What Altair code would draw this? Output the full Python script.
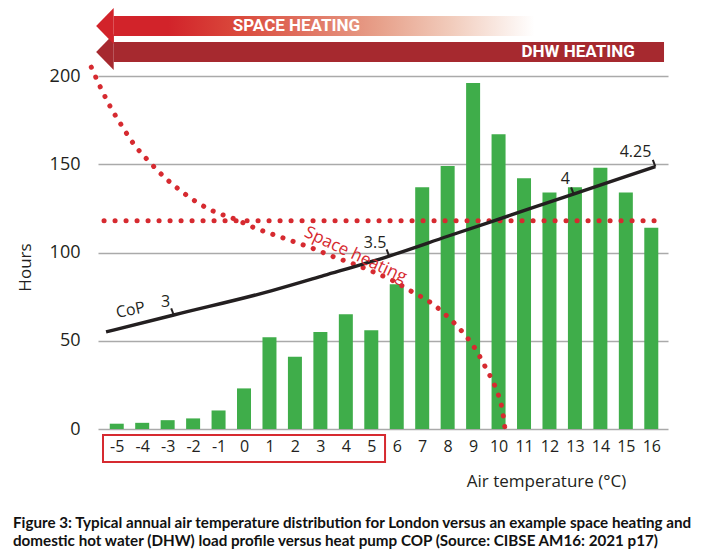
import altair as alt
import pandas as pd

FONT = "Open Sans"
CAPTION_FONT = "Lato"

# ---- data -------------------------------------------------------------
temps = list(range(-5, 17))
hours = [3, 3.5, 5, 6, 10.5, 23, 52, 41, 55, 65, 56, 82,
         137, 149, 196, 167, 142, 134, 137, 148, 134, 114]

# space-heating load profile (dotted curve), x in deg C, y in chart hours units
sh_t = [-6.0, -5.62, -5.23, -4.81, -4.31, -3.76, -3.15, -2.49, -1.80, -1.14,
        -0.37, 0.41, 1.18, 1.99, 2.76, 3.53, 4.31, 5.08, 5.85, 6.62, 7.36,
        8.01, 8.55, 9.09, 9.52, 9.90, 10.14, 10.25]
sh_h = [205, 193, 182, 172, 161, 152, 143, 135, 128, 123, 119, 114, 110, 106,
        102, 97.5, 93.5, 89, 84, 77.6, 71.4, 63.5, 55.5, 45.3, 34, 22.7, 11.3, 0.6]

# DHW load (flat dotted line)
dhw_t = [-5.5, 16.4]
dhw_h = [118, 118]

# heat pump COP curve
cop_t = [-5.42, -2.76, 1.1, 3.15, 5.7, 8.0, 10.5, 13.0, 16.16]
cop_h = [55, 64.6, 78.4, 87, 98, 109.2, 121.3, 133.4, 148.7]

cop_tick_t = [-2.76, 5.7, 12.95, 16.16]
cop_tick_h = [64.6, 98, 133.1, 148.7]

cop_label_text = ["CoP", "3", "3.5", "4", "4.25"]
cop_label_t = [-4.46, -3.08, 5.15, 12.62, 15.38]
cop_label_h = [67.4, 72.1, 105.6, 141.5, 157.1]
cop_label_angle = [-12, 0, 0, 0, 0]

# arrows (top banners) in chart units
space_body_t = [-5.12, 11.41]
space_body_h = [222.7, 234.0]
space_head_t = [-5.81, -5.12]
space_head_top = [228.3, 238.5]
space_head_bot = [228.3, 218.1]

dhw_body_t = [-5.12, 16.50]
dhw_body_h = [207.9, 219.3]
dhw_head_t = [-5.81, -5.12]
dhw_head_top = [213.6, 223.8]
dhw_head_bot = [213.6, 203.4]

box_t = [-5.54, 5.54]
box_h = [-3.4, -18.7]

caption = [
    "Figure 3: Typical annual air temperature distribution for London versus an example space heating and",
    "domestic hot water (DHW) load profile versus heat pump COP (Source: CIBSE AM16: 2021 p17)",
]

# ---- scales & axes ----------------------------------------------------
xs = alt.Scale(domain=[-5.54, 16.46], nice=False, zero=False)
ys = alt.Scale(domain=[0, 200], nice=False, zero=False)
RED = "#d62a30"
DARK = "#231f20"

XAXIS = alt.Axis(
    values=temps, grid=False, domain=False, ticks=False, tickSize=0,
    labelPadding=9, labelFontSize=16, labelFont=FONT, labelColor=DARK,
    labelFlush=False, labelOverlap=False, labelExpr="'' + datum.value",
    title="Air temperature (°C)", titleFont=FONT, titleFontSize=17,
    titleFontWeight="normal", titleColor=DARK, titleX=448, titleY=52,
    titleAlign="center", titleBaseline="middle")
YAXIS = alt.Axis(
    values=[0, 50, 100, 150, 200], grid=True, gridColor="#aaaaaa",
    gridWidth=1.3, domain=False, ticks=False, tickSize=0, labelPadding=18,
    labelFontSize=18, labelFont=FONT, labelColor=DARK,
    title="Hours", titleFont=FONT, titleFontSize=17, titleFontWeight="normal",
    titleColor=DARK, titleX=-73, titleY=191, titleAlign="center",
    titleBaseline="middle")


def X(field="t"):
    return alt.X(f"{field}:Q", scale=xs, axis=XAXIS)


def Y(field="h"):
    return alt.Y(f"{field}:Q", scale=ys, axis=YAXIS)


# ---- layers -----------------------------------------------------------
bars = alt.Chart(pd.DataFrame({"t": temps, "h": hours})).mark_bar(
    size=14, color="#3fad4a"
).encode(x=X(), y=Y())

dhw_line = alt.Chart(pd.DataFrame({"t": dhw_t, "h": dhw_h})).mark_line(
    color=RED, strokeWidth=5, strokeDash=[0.1, 10.9], strokeCap="round", clip=False
).encode(x=X(), y=Y())

sh_line = alt.Chart(pd.DataFrame({"t": sh_t, "h": sh_h})).mark_line(
    color=RED, strokeWidth=5, strokeDash=[0.1, 10.6], strokeCap="round",
    interpolate="monotone", clip=False
).encode(x=X(), y=Y(), order="t:Q")

sh_label = alt.Chart(pd.DataFrame({"t": [4.38], "h": [98.6], "s": ["Space heating"]})).mark_text(
    color=RED, font=FONT, fontSize=17, angle=25, align="center", baseline="middle"
).encode(x=X(), y=Y(), text="s:N")

cop_line = alt.Chart(pd.DataFrame({"t": cop_t, "h": cop_h})).mark_line(
    color=DARK, strokeWidth=3.4, interpolate="monotone"
).encode(x=X(), y=Y())

tick_df = pd.DataFrame({
    "t": [v - 0.1 for v in cop_tick_t], "h": [v + 3.8 for v in cop_tick_h],
    "t2": cop_tick_t, "h2": cop_tick_h,
})
cop_ticks = alt.Chart(tick_df).mark_rule(color=DARK, strokeWidth=2).encode(
    x=X(), y=Y(), x2="t2:Q", y2="h2:Q")

cop_labels = alt.Chart(pd.DataFrame({
    "t": cop_label_t, "h": cop_label_h, "s": cop_label_text, "a": cop_label_angle
})).mark_text(color=DARK, font=FONT, fontSize=16, align="center", baseline="middle").encode(
    x=X(), y=Y(), text="s:N", angle=alt.Angle("a:Q", scale=None))

# top arrows
dhw_body = alt.Chart(pd.DataFrame({"t": [dhw_body_t[0]], "t2": [dhw_body_t[1]],
                                   "h": [dhw_body_h[0]], "h2": [dhw_body_h[1]]})).mark_rect(
    color="#a6292f", clip=False).encode(x=X(), x2="t2:Q", y=Y(), y2="h2:Q")
dhw_head = alt.Chart(pd.DataFrame({"t": dhw_head_t, "h": dhw_head_top, "h2": dhw_head_bot})).mark_area(
    color="#a6292f", clip=False).encode(x=X(), y=Y(), y2="h2:Q")

grad = alt.Gradient(
    gradient="linear", x1=0, y1=0, x2=1, y2=0,
    stops=[alt.GradientStop(color="#d2232a", offset=0),
           alt.GradientStop(color="#d2232a", offset=0.13),
           alt.GradientStop(color="#da4a3c", offset=0.3),
           alt.GradientStop(color="#e7a08a", offset=0.63),
           alt.GradientStop(color="#f1cbbb", offset=0.8),
           alt.GradientStop(color="#ffffff", offset=1)])
space_body = alt.Chart(pd.DataFrame({"t": [space_body_t[0]], "t2": [space_body_t[1]],
                                     "h": [space_body_h[0]], "h2": [space_body_h[1]]})).mark_rect(
    fill=grad, clip=False).encode(x=X(), x2="t2:Q", y=Y(), y2="h2:Q")
space_head = alt.Chart(pd.DataFrame({"t": space_head_t, "h": space_head_top, "h2": space_head_bot})).mark_area(
    color="#d2232a", clip=False).encode(x=X(), y=Y(), y2="h2:Q")

space_text = alt.Chart(pd.DataFrame({"t": [2.06], "h": [228.3], "s": ["SPACE HEATING"]})).mark_text(
    color="white", font="Roboto", fontWeight="bold", fontSize=17, baseline="middle", align="center"
).encode(x=X(), y=Y(), text="s:N")
dhw_text = alt.Chart(pd.DataFrame({"t": [15.35], "h": [213.6], "s": ["DHW HEATING"]})).mark_text(
    color="white", font="Roboto", fontWeight="bold", fontSize=17, baseline="middle", align="right"
).encode(x=X(), y=Y(), text="s:N")

box = alt.Chart(pd.DataFrame({"t": [box_t[0]], "t2": [box_t[1]], "h": [box_h[0]], "h2": [box_h[1]]})).mark_rect(
    fillOpacity=0, stroke=RED, strokeWidth=2, clip=False).encode(x=X(), x2="t2:Q", y=Y(), y2="h2:Q")

cap1 = alt.Chart(pd.DataFrame({"s": [caption[0]]})).mark_text(
    font=CAPTION_FONT, fontWeight="bold", fontSize=15.2, color="#111111", align="left",
    baseline="alphabetic").encode(x=alt.value(-85), y=alt.value(452), text="s:N")
cap2 = alt.Chart(pd.DataFrame({"s": [caption[1]]})).mark_text(
    font=CAPTION_FONT, fontWeight="bold", fontSize=15.2, color="#111111", align="left",
    baseline="alphabetic").encode(x=alt.value(-85), y=alt.value(470), text="s:N")

chart = alt.layer(
    bars, dhw_line, sh_line, cop_line, cop_ticks, cop_labels, sh_label,
    dhw_body, dhw_head, space_body, space_head, space_text, dhw_text, box, cap1, cap2
).properties(
    width=570, height=353,
    autosize=alt.AutoSizeParams(type="none"),
    padding={"left": 90, "top": 68, "right": 30, "bottom": 120},
).configure_view(stroke=None)

chart.save("out.html", embed_options={"renderer": "svg", "actions": False})
